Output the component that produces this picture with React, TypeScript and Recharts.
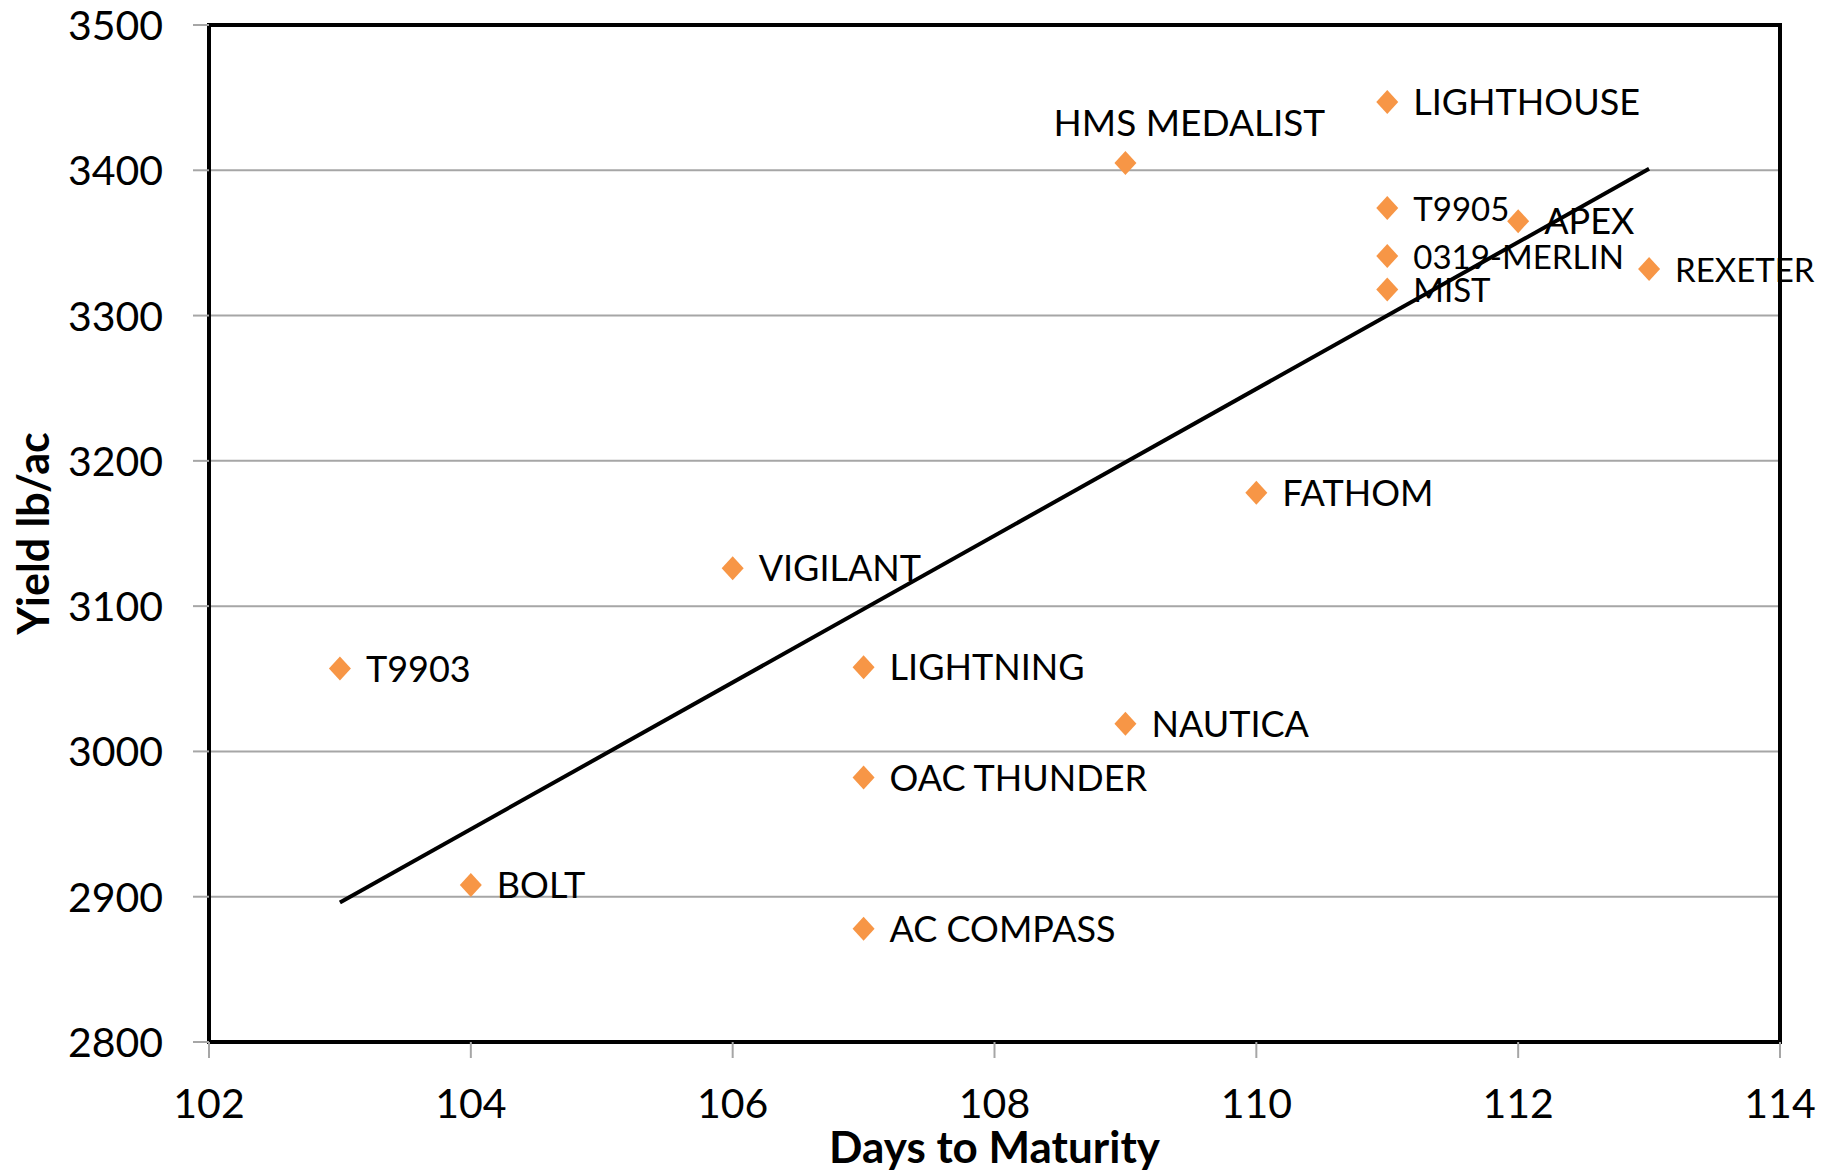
import React from 'react';
import {
  ScatterChart,
  Scatter,
  XAxis,
  YAxis,
  CartesianGrid,
  ReferenceArea,
} from 'recharts';

// varieties
const varieties = [
  'T9903', 'BOLT', 'VIGILANT', 'LIGHTNING', 'OAC THUNDER', 'AC COMPASS',
  'NAUTICA', 'HMS MEDALIST', 'FATHOM', 'LIGHTHOUSE', 'T9905', '0319-MERLIN',
  'MIST', 'APEX', 'REXETER',
];
const daysToMaturity = [103, 104, 106, 107, 107, 107, 109, 109, 110, 111, 111, 111, 111, 112, 113];
const yieldLbAc = [3057, 2908, 3126, 3058, 2982, 2878, 3019, 3405, 3178, 3447, 3374, 3341, 3318, 3365, 3332];

// linear trendline end points
const trendDays = [103, 113];
const trendYield = [2896, 3401];

const xTicks = [102, 104, 106, 108, 110, 112, 114];
const yTicks = [2800, 2900, 3000, 3100, 3200, 3300, 3400, 3500];

const points = varieties.map((name, i) => ({ name, x: daysToMaturity[i], y: yieldLbAc[i] }));
const trend = trendDays.map((x, i) => ({ x, y: trendYield[i] }));

const FONT = 'Lato, "Open Sans", sans-serif';
const ORANGE = '#F79646';

// the small ones were shrunk in the original
const smallLabels = ['T9905', '0319-MERLIN', 'MIST', 'REXETER'];

function Diamond(props: any) {
  const { cx, cy, payload } = props;
  const small = smallLabels.includes(payload.name);
  let size = small ? 33 : 36;
  let tx = cx + 26;
  let ty = cy + 13;
  let anchor: 'start' | 'middle' = 'start';
  if (payload.name === 'HMS MEDALIST') {
    size = 37;
    tx = cx + 64;
    ty = cy - 27;
    anchor = 'middle';
  }
  return (
    <g>
      <path
        d={`M${cx},${cy - 12} L${cx + 11},${cy} L${cx},${cy + 12} L${cx - 11},${cy} Z`}
        fill={ORANGE}
      />
      <text x={tx} y={ty} textAnchor={anchor} fontSize={size} fontFamily={FONT} fill="#000">
        {payload.name}
      </text>
    </g>
  );
}

function NoDot() {
  return <g />;
}

function XTick(props: any) {
  const { x, y, payload } = props;
  return (
    <text x={x} y={y} textAnchor="middle" fontSize={41} fontFamily={FONT} fill="#000">
      {payload.value}
    </text>
  );
}

function YTick(props: any) {
  const { x, y, payload } = props;
  return (
    <text x={x} y={y + 15} textAnchor="end" fontSize={41} fontFamily={FONT} fill="#000">
      {payload.value}
    </text>
  );
}

function XTitle(props: any) {
  const { viewBox } = props;
  return (
    <text
      x={viewBox.x + viewBox.width / 2}
      y={viewBox.y + viewBox.height - 11}
      textAnchor="middle"
      fontSize={44}
      fontWeight="bold"
      fontFamily={FONT}
      fill="#000"
    >
      Days to Maturity
    </text>
  );
}

function YTitle(props: any) {
  const { viewBox } = props;
  const cx = 49;
  const cy = viewBox.y + viewBox.height / 2;
  return (
    <text
      x={cx}
      y={cy}
      transform={`rotate(-90, ${cx}, ${cy})`}
      textAnchor="middle"
      fontSize={43}
      fontWeight="bold"
      fontFamily={FONT}
      fill="#000"
    >
      Yield lb/ac
    </text>
  );
}

export default function App() {
  return (
    <div style={{ position: 'absolute', left: 0, top: 0, width: 1832, height: 1174, background: '#fff' }}>
      <ScatterChart width={1832} height={1174} margin={{ top: 25, right: 52, bottom: 0, left: 0 }}>
        <CartesianGrid vertical={false} stroke="#a6a6a6" strokeWidth={2} />
        <XAxis
          type="number"
          dataKey="x"
          domain={[102, 114]}
          ticks={xTicks}
          interval={0}
          height={132}
          axisLine={false}
          tickSize={16}
          tickMargin={60}
          tickLine={{ stroke: '#a6a6a6', strokeWidth: 2 }}
          tick={<XTick />}
          label={<XTitle />}
        />
        <YAxis
          type="number"
          dataKey="y"
          domain={[2800, 3500]}
          ticks={yTicks}
          interval={0}
          width={209}
          axisLine={false}
          tickSize={16}
          tickMargin={30}
          tickLine={{ stroke: '#a6a6a6', strokeWidth: 2 }}
          tick={<YTick />}
          label={<YTitle />}
        />
        <Scatter data={points} shape={<Diamond />} isAnimationActive={false} />
        <Scatter
          data={trend}
          line={{ stroke: '#000', strokeWidth: 4 }}
          lineType="joint"
          shape={<NoDot />}
          isAnimationActive={false}
        />
        <ReferenceArea
          x1={102}
          x2={114}
          y1={2800}
          y2={3500}
          fill="none"
          fillOpacity={0}
          stroke="#000"
          strokeWidth={4}
        />
      </ScatterChart>
    </div>
  );
}
